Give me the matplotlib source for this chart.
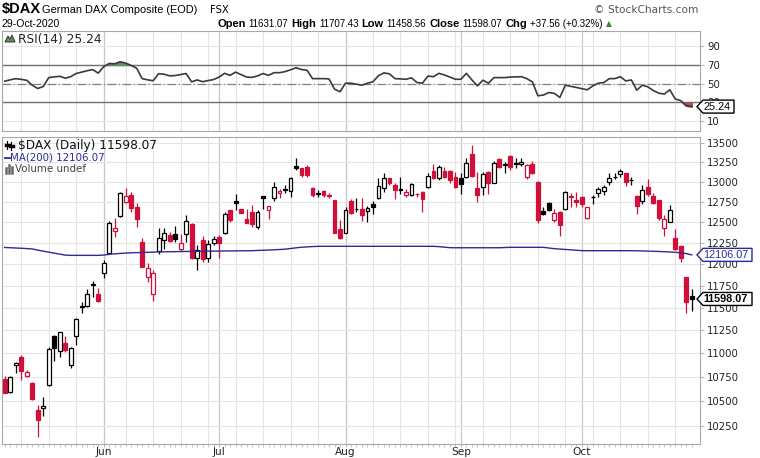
import numpy as np
import pandas as pd
import matplotlib
matplotlib.use("Agg")
import matplotlib.pyplot as plt
from matplotlib.patches import Polygon
from matplotlib.lines import Line2D
from matplotlib.transforms import IdentityTransform
from matplotlib.ticker import FixedLocator, FixedFormatter, NullLocator

# daily candles, 6 May 2020 .. 29 Oct 2020 (Xetra closed on 1 Jun)
opens = [10726, 10598, 10879, 10958, 10764, 10691, 10411, 10428, 10667, 11190,
         11025, 11108, 10876, 11190, 11519, 11519, 11756, 11653, 11897, 12131,
         12390, 12572, 12740, 12831, 12679, 12262, 11851, 11653, 12155, 12282,
         12341, 12353, 12175, 12353, 12470, 12073, 12282, 12065, 12243, 12314,
         12369, 12645, 12760, 12654, 12535, 12624, 12434, 12818, 12645, 12797,
         12852, 12899, 12884, 13198, 13168, 13189, 12915, 12860, 12884, 12827,
         12769, 12410, 12369, 12757, 12654, 12657, 12633, 12719, 12797, 12915,
         13040, 12956, 12899, 12831, 12831, 12845, 12872, 12935, 13138, 13040,
         13138, 13138, 13062, 13040, 13062, 13352, 12915, 12927, 13125, 12985,
         13283, 13211, 13326, 13225, 13220, 13062, 13225, 12998, 12633, 12735,
         12523, 12624, 12662, 12813, 12769, 12810, 12544, 12802, 12852, 12884,
         12998, 13057, 13096, 13105, 13015, 12818, 12760, 12935, 12818, 12769,
         12422, 12503, 12302, 12210, 11845, 11631.07]
highs = [10760, 10760, 10911, 10980, 10824, 10701, 10462, 10541, 11072, 11198,
         11235, 11190, 11072, 11389, 11560, 11711, 11805, 11719, 12045, 12514,
         12543, 12872, 12914, 12872, 12728, 12302, 12007, 11929, 12422, 12430,
         12381, 12450, 12353, 12584, 12486, 12222, 12329, 12282, 12329, 12341,
         12625, 12650, 12843, 12662, 12662, 12707, 12645, 12825, 12700, 12998,
         12902, 12956, 13053, 13307, 13175, 13211, 12927, 12893, 12893, 12852,
         12775, 12523, 12686, 12778, 12790, 12790, 12694, 12757, 13040, 13105,
         13045, 12977, 13062, 12902, 12977, 12852, 12875, 13105, 13225, 13211,
         13189, 13146, 13125, 13112, 13296, 13469, 13125, 13125, 13130, 13265,
         13296, 13253, 13339, 13296, 13296, 13225, 13265, 13003, 12686, 12740,
         12662, 12630, 12880, 12860, 12872, 12815, 12686, 12831, 12935, 12956,
         13105, 13112, 13155, 13112, 13062, 12831, 12956, 13027, 12852, 12775,
         12584, 12707, 12410, 12222, 11850, 11707.43]
lows = [10580, 10590, 10794, 10719, 10747, 10513, 10144, 10350, 10660, 10918,
        10965, 11012, 10841, 11090, 11444, 11508, 11623, 11564, 11840, 12116,
        12314, 12563, 12728, 12617, 12442, 11960, 11792, 11575, 12116, 12171,
        12264, 12262, 12155, 12262, 12057, 11929, 12026, 12026, 12222, 12065,
        12353, 12503, 12645, 12604, 12482, 12442, 12410, 12662, 12532, 12760,
        12797, 12852, 12802, 13146, 13062, 13062, 12810, 12810, 12810, 12790,
        12362, 12295, 12362, 12596, 12617, 12514, 12503, 12596, 12781, 12872,
        12956, 12781, 12843, 12810, 12822, 12810, 12624, 12915, 13035, 13019,
        13040, 12987, 12915, 12843, 13040, 13062, 12748, 12831, 12843, 12977,
        13168, 13112, 13146, 13168, 13198, 13027, 13096, 12490, 12584, 12633,
        12503, 12329, 12645, 12686, 12686, 12679, 12532, 12719, 12810, 12831,
        12956, 13027, 13062, 12944, 12956, 12596, 12719, 12818, 12719, 12523,
        12329, 12500, 12163, 12022, 11437, 11458.56]
closes = [10587, 10747, 10900, 10813, 10806, 10523, 10310, 10455, 11047, 11061,
          11228, 11036, 11061, 11371, 11504, 11650, 11764, 11575, 12007, 12482,
          12422, 12852, 12822, 12667, 12532, 11967, 11949, 11890, 12309, 12369,
          12270, 12294, 12243, 12511, 12065, 12163, 12053, 12230, 12294, 12243,
          12596, 12523, 12728, 12612, 12490, 12470, 12624, 12790, 12694, 12926,
          12880, 12906, 13040, 13168, 13083, 13080, 12831, 12840, 12831, 12818,
          12369, 12302, 12645, 12603, 12661, 12584, 12674, 12679, 12944, 13048,
          12977, 12893, 12908, 12872, 12968, 12838, 12777, 13071, 13040, 13181,
          13062, 13019, 12935, 12968, 13240, 13071, 12831, 13096, 12977, 13240,
          13189, 13220, 13189, 13233, 13253, 13211, 13105, 12523, 12596, 12645,
          12604, 12462, 12872, 12806, 12748, 12719, 12679, 12810, 12902, 12927,
          13040, 13062, 13138, 12998, 13019, 12694, 12893, 12843, 12735, 12544,
          12532, 12645, 12171, 12065, 11560.51, 11598.07]
ma200 = [12193, 12190, 12187, 12184, 12180, 12176, 12162, 12150, 12138, 12126,
         12115, 12103, 12100, 12100, 12100, 12100, 12100, 12100, 12104, 12112,
         12118, 12123, 12127, 12130, 12132, 12134, 12136, 12138, 12140, 12142,
         12143, 12144, 12145, 12146, 12147, 12148, 12149, 12150, 12150, 12151,
         12152, 12152, 12153, 12154, 12154, 12155, 12158, 12160, 12163, 12166,
         12169, 12173, 12181, 12189, 12196, 12200, 12204, 12207, 12207, 12207,
         12207, 12207, 12207, 12207, 12207, 12207, 12207, 12207, 12207, 12207,
         12207, 12207, 12207, 12207, 12207, 12207, 12207, 12207, 12207, 12203,
         12197, 12191, 12190, 12190, 12190, 12190, 12190, 12190, 12190, 12190,
         12190, 12193, 12195, 12195, 12195, 12195, 12195, 12195, 12195, 12187,
         12179, 12174, 12170, 12165, 12160, 12156, 12155, 12155, 12155, 12155,
         12155, 12155, 12155, 12155, 12155, 12154, 12152, 12150, 12148, 12146,
         12143, 12140, 12136, 12131, 12120, 12106.07]
rsi14 = [52.6, 54.0, 55.3, 54.5, 53.5, 48.2, 44.7, 46.8, 56.4, 57.2,
         57.8, 55.8, 57.4, 60.8, 62.3, 63.8, 65.0, 61.2, 68.1, 71.6,
         71.3, 73.4, 72.0, 69.5, 66.5, 55.3, 54.0, 53.0, 60.6, 60.0,
         58.3, 58.6, 59.7, 60.8, 51.8, 53.9, 52.0, 53.2, 54.3, 57.0,
         61.0, 58.8, 62.3, 59.6, 57.0, 56.6, 58.2, 60.8, 58.8, 61.7,
         61.7, 62.8, 64.8, 67.0, 65.1, 64.3, 55.3, 55.3, 55.3, 55.0,
         44.0, 41.2, 50.4, 50.4, 49.3, 48.2, 50.4, 52.0, 58.5, 61.5,
         60.4, 55.3, 55.0, 54.6, 56.2, 51.1, 50.4, 58.1, 57.4, 61.0,
         59.2, 57.0, 54.6, 54.6, 61.0, 53.9, 47.5, 53.6, 50.4, 56.4,
         56.4, 56.4, 57.0, 57.2, 57.4, 55.3, 51.8, 36.9, 37.6, 40.4,
         39.4, 35.1, 48.2, 47.0, 45.8, 44.5, 43.3, 47.5, 50.4, 51.1,
         55.3, 55.3, 57.4, 52.8, 53.9, 42.9, 48.2, 46.5, 42.5, 39.7,
         38.7, 43.3, 33.4, 31.6, 26.0, 25.24]

price_ticks = [10250, 10500, 10750, 11000, 11250, 11500, 11750, 12000,
               12250, 12500, 12750, 13000, 13250, 13500]
rsi_ticks = [10, 30, 50, 70, 90]

W, H = 760, 458
RED = '#d0103a'
BLUE = '#2a2a9c'
GRID = '#e4e4e4'
MGRID = '#c8c8c8'
FRAME = '#a8a8a8'
HF = 'Liberation Sans'


def rect(l, t, r, b):
    return [l / W, 1 - b / H, (r - l) / W, (b - t) / H]


fig = plt.figure(figsize=(W / 100, H / 100), dpi=100)
ax_rsi = fig.add_axes(rect(2, 31, 700, 131))
ax = fig.add_axes(rect(2, 136.5, 700, 444))

o = np.array(opens, float)
h = np.array(highs, float)
l = np.array(lows, float)
c = np.array(closes, float)
n = len(c)
x = np.arange(n)

dates = pd.bdate_range('2020-05-06', '2020-10-29')
dates = dates[dates != pd.Timestamp('2020-06-01')]
week_starts = [i for i in range(1, n) if dates[i].weekday() < dates[i - 1].weekday()]
month_starts = [i for i in range(1, n) if dates[i].month != dates[i - 1].month]

for a in (ax, ax_rsi):
    a.set_xlim(-0.5, n + 0.5)
    for s in a.spines.values():
        s.set_color(FRAME)
        s.set_linewidth(0.8)
    for i in week_starts:
        a.axvline(i, color=GRID, lw=0.8, zorder=0)
    for i in month_starts:
        a.axvline(i, color=MGRID, lw=0.9, zorder=0)

# --- price panel ---
prev = np.r_[o[0], c[:-1]]
cols = np.where(c >= prev, 'black', RED)
hollow = c > o
ax.vlines(x, l, h, colors=cols, lw=0.9, zorder=2)
bottom = np.minimum(o, c)
height = np.abs(c - o)
ax.bar(x, height, bottom=bottom, width=0.7,
       color=np.where(hollow, 'white', cols), edgecolor=cols, linewidth=0.9, zorder=3)
ax.plot(x, ma200, color=BLUE, lw=1.0, zorder=4)

ax.set_yscale('log')
ax.set_ylim(10073, 13582)
ax.yaxis.set_major_locator(FixedLocator(price_ticks))
ax.yaxis.set_major_formatter(FixedFormatter([str(t) for t in price_ticks]))
ax.yaxis.set_minor_locator(NullLocator())
ax.yaxis.tick_right()
for t in price_ticks:
    ax.axhline(t, color=GRID, lw=0.8, zorder=0)
ax.tick_params(axis='y', which='major', length=3, width=0.6, color=FRAME, pad=2,
               labelsize=7.3, labelcolor='#222222')

ax.xaxis.set_major_locator(FixedLocator(month_starts))
ax.xaxis.set_major_formatter(FixedFormatter([dates[i].strftime('%b') for i in month_starts]))
ax.xaxis.set_minor_locator(FixedLocator(x))
ax.tick_params(axis='x', which='major', length=2, width=0.6, color=FRAME, pad=0.5,
               labelsize=7.6, labelcolor='#222222')
ax.tick_params(axis='x', which='minor', length=1.8, width=0.5, color='#b0b0b0')

# --- RSI panel ---
rsi = np.array(rsi14)
ax_rsi.set_ylim(-1, 106.5)
for t in rsi_ticks:
    ax_rsi.axhline(t, color=GRID, lw=0.8, zorder=0)
ax_rsi.axhline(70, color='#707070', lw=1.0, zorder=1)
ax_rsi.axhline(30, color='#707070', lw=1.0, zorder=1)
ax_rsi.axhline(50, color='#808080', lw=0.9, ls=(0, (7, 2, 1, 2)), zorder=1)
ax_rsi.fill_between(x, rsi, 70, where=rsi >= 70, interpolate=True, color='#5f8f5f', zorder=2)
ax_rsi.fill_between(x, rsi, 30, where=rsi <= 30, interpolate=True, color='#a55555', zorder=2)
ax_rsi.plot(x, rsi, color='#3a3a3a', lw=1.2, zorder=3)
ax_rsi.yaxis.set_major_locator(FixedLocator(rsi_ticks))
ax_rsi.yaxis.set_major_formatter(FixedFormatter([str(t) for t in rsi_ticks]))
ax_rsi.yaxis.tick_right()
ax_rsi.tick_params(axis='y', length=3, width=0.6, color=FRAME, pad=2,
                   labelsize=7.3, labelcolor='#222222')
ax_rsi.set_xticks([])


# --- value tags on the right axis ---
def tag(a, yval, text, color, bold=False, w=55):
    _, yd = a.transData.transform((0, yval))
    x0 = 697
    hh = 6.5
    pts = [(x0, yd), (x0 + 6, yd + hh), (x0 + w, yd + hh), (x0 + w, yd - hh), (x0 + 6, yd - hh)]
    fig.patches.append(Polygon(pts, closed=True, transform=IdentityTransform(),
                               facecolor='white', edgecolor=color, lw=1.0, zorder=5))
    fig.text((x0 + 6.5) / W, yd / H, text, color=color, fontsize=7.8, family=HF,
             fontweight='bold' if bold else 'normal', va='center', ha='left', zorder=6)


tag(ax, ma200[-1], f'{ma200[-1]:.2f}', BLUE)
tag(ax, c[-1], f'{c[-1]:.2f}', 'black', bold=True)
tag(ax_rsi, rsi[-1], f'{rsi[-1]:.2f}', 'black', w=37)


# --- legends inside panels ---
def ftext(px, py, s, **kw):
    return fig.text(px / W, 1 - py / H, s, **kw)


ftext(18, 39, f'RSI(14) {rsi[-1]:.2f}', fontsize=8.8, va='center', color='#222222')
fig.patches.append(Polygon([(5, H - 42), (8, H - 36), (10, H - 39), (12, H - 35), (15, H - 42)],
                           closed=True, transform=IdentityTransform(),
                           facecolor='#5f8f5f', edgecolor='#333333', lw=0.7))
ftext(18, 145.5, f'$DAX (Daily) {c[-1]:.2f}', fontsize=8.7, va='center', color='#111111')
for xx, y0, y1 in [(7, 141, 149), (11, 142, 150)]:
    fig.add_artist(Line2D([xx / W, xx / W], [1 - y0 / H, 1 - y1 / H], color='black', lw=0.8))
    fig.add_artist(Line2D([(xx - 1.5) / W, (xx + 1.5) / W], [1 - (y0 + 4) / H] * 2, color='black', lw=2.5))
fig.add_artist(Line2D([5 / W, 10 / W], [1 - 157.5 / H] * 2, color=BLUE, lw=1.3))
ftext(10.5, 157.5, f'MA(200) {ma200[-1]:.2f}', fontsize=7.4, va='center', color=BLUE)
for xx, hh in [(6, 5), (9, 8), (12, 6)]:
    fig.add_artist(Line2D([xx / W, xx / W], [1 - 173 / H, 1 - (173 - hh) / H], color='#666666', lw=1.8))
ftext(15, 169.5, 'Volume undef', fontsize=7.4, va='center', color='#444444')

# --- header ---
ftext(2, 13, '$DAX', fontsize=10.5, fontweight='bold', family=HF, va='baseline')
ftext(42, 13, 'German DAX Composite (EOD)', fontsize=7.9, family=HF, va='baseline')
ftext(210, 13, 'FSX', fontsize=7.2, family='DejaVu Sans', va='baseline')
ftext(2, 27, dates[-1].strftime('%d-%b-%Y'), fontsize=7.6, family=HF, va='baseline')
ftext(698, 13, '\u00a9 StockCharts.com', fontsize=7.6, family='DejaVu Sans', color='#555555',
      ha='right', va='baseline')

chg = c[-1] - c[-2]
pieces = [('Open', True), (f'{o[-1]:.2f}', False), ('High', True), (f'{h[-1]:.2f}', False),
          ('Low', True), (f'{l[-1]:.2f}', False), ('Close', True), (f'{c[-1]:.2f}', False),
          ('Chg', True), (f'{chg:+.2f} ({chg / c[-2] * 100:+.2f}%)', False)]
renderer = fig.canvas.get_renderer()
texts = []
for s, b in pieces:
    t = ftext(0, 27, s, fontsize=8.0 if b else 7.0, fontweight='bold' if b else 'normal',
              family=HF, va='baseline')
    texts.append(t)
widths = [t.get_window_extent(renderer).width for t in texts]
gap = 3.0
xpos = 217
for t, wd in zip(texts, widths):
    t.set_x(xpos / W)
    xpos += wd + gap
ftext(xpos + 1, 26.5, '\u25b2', fontsize=5.5, color='#2e8b2e', family='DejaVu Sans', va='baseline')

fig.savefig('out.png', dpi=100)
